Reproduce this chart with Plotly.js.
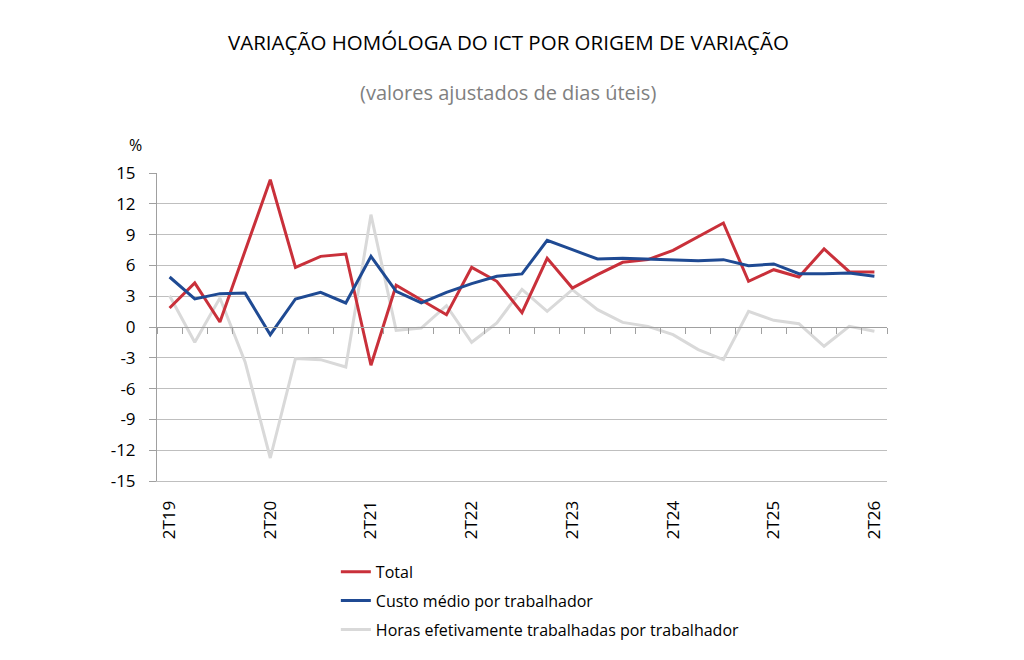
<!DOCTYPE html>
<html>
<head>
<meta charset="utf-8">
<script src="https://cdn.plot.ly/plotly-3.0.1.min.js"></script>
<style>html,body{margin:0;padding:0;background:#fff}#chart{width:1024px;height:660px}</style>
</head>
<body>
<div id="chart"></div>
<script>
var quarters = ['2T19','3T19','4T19','1T20','2T20','3T20','4T20','1T21','2T21','3T21','4T21','1T22','2T22','3T22','4T22','1T23','2T23','3T23','4T23','1T24','2T24','3T24','4T24','1T25','2T25','3T25','4T25','1T26','2T26'];
var tickLabels = ['2T19','2T20','2T21','2T22','2T23','2T24','2T25','2T26'];
var total = [1.85,4.29,0.49,7.4,14.35,5.81,6.88,7.11,-3.73,4.06,2.66,1.2,5.81,4.45,1.4,6.69,3.8,5.1,6.3,6.56,7.47,8.83,10.13,4.45,5.58,4.87,7.6,5.39,5.36];
var custo = [4.87,2.73,3.25,3.3,-0.75,2.73,3.38,2.34,6.88,3.47,2.34,3.38,4.22,4.94,5.17,8.44,7.53,6.62,6.69,6.62,6.56,6.46,6.56,5.97,6.14,5.19,5.19,5.26,4.94];
var horas = [3.05,-1.49,2.82,-3.4,-12.76,-3.08,-3.18,-3.9,10.94,-0.32,-0.1,2.08,-1.49,0.39,3.67,1.53,3.64,1.69,0.45,0.06,-0.75,-2.2,-3.18,1.53,0.65,0.32,-1.88,0.06,-0.42];
var yTicks = [-15,-12,-9,-6,-3,0,3,6,9,12,15];
var yTickText = ['-15','-12','-9','-6','-3','0','3','6','9','12','15'];

var FONT = 'Open Sans, DejaVu Sans, sans-serif';

var data = [
  {x: quarters, y: total, name: 'Total', type: 'scatter', mode: 'lines', xaxis: 'x2', yaxis: 'y',
   legendgroup: 'a', line: {color: '#C9303A', width: 3}},
  {x: quarters, y: custo, name: 'Custo médio por trabalhador', type: 'scatter', mode: 'lines', xaxis: 'x2', yaxis: 'y',
   legendgroup: 'b', line: {color: '#1F4A93', width: 3}},
  {x: quarters, y: horas, name: 'Horas efetivamente trabalhadas por trabalhador', type: 'scatter', mode: 'lines', xaxis: 'x', yaxis: 'y',
   legendgroup: 'c', line: {color: '#D9D9D9', width: 3}}
];

var layout = {
  width: 1024, height: 660,
  margin: {l: 157, r: 137, t: 173, b: 179},
  paper_bgcolor: '#fff', plot_bgcolor: '#fff',
  font: {family: FONT, color: '#000', size: 16},
  showlegend: true,
  legend: {x: 0.245, y: -0.24, xanchor: 'left', yanchor: 'top', orientation: 'v', traceorder: 'grouped',
           font: {family: FONT, size: 16, color: '#000'}, bgcolor: 'rgba(0,0,0,0)', tracegroupgap: 5},
  xaxis: {type: 'category', categoryorder: 'array', categoryarray: quarters,
          range: [-0.5, quarters.length - 0.5],
          tickmode: 'array', tickvals: tickLabels, ticktext: tickLabels, tickangle: -90,
          ticks: '', ticklabelstandoff: 12, showgrid: false, zeroline: false,
          showline: true, linecolor: '#BFBFBF', linewidth: 1,
          tickfont: {family: FONT, size: 17, color: '#000'}},
  xaxis2: {matches: 'x', overlaying: 'x', anchor: 'free', position: 0.5, side: 'bottom',
           type: 'category', showticklabels: false, ticks: 'outside', ticklen: 6, tickcolor: '#A0A0A0',
           tickson: 'boundaries', dtick: 1, showgrid: false, zeroline: false,
           showline: true, linecolor: '#A0A0A0', linewidth: 1},
  yaxis: {range: [-15, 15], tickmode: 'array', tickvals: yTicks, ticktext: yTickText, ticks: 'outside', ticklen: 7,
          ticklabelstandoff: 10,
          tickcolor: '#A0A0A0', showline: true, linecolor: '#A0A0A0', linewidth: 1,
          showgrid: true, gridcolor: '#BFBFBF', gridwidth: 1, zeroline: false,
          tickfont: {family: FONT, size: 17, color: '#000'}},
  annotations: [
    {text: 'VARIAÇÃO HOMÓLOGA DO ICT POR ORIGEM DE VARIAÇÃO', xref: 'paper', yref: 'paper', x: 0.481, y: 1, yshift: 131,
     xanchor: 'center', yanchor: 'middle', showarrow: false, font: {family: FONT, size: 20.5, color: '#000'}},
    {text: '(valores ajustados de dias úteis)', xref: 'paper', yref: 'paper', x: 0.481, y: 1, yshift: 81,
     xanchor: 'center', yanchor: 'middle', showarrow: false, font: {family: FONT, size: 20, color: '#808080'}},
    {text: '%', xref: 'paper', yref: 'paper', x: 0, xshift: -22, y: 1, yshift: 28,
     xanchor: 'center', yanchor: 'middle', showarrow: false, font: {family: FONT, size: 16, color: '#000'}}
  ]
};

Plotly.newPlot('chart', data, layout, {displayModeBar: false, staticPlot: true});
</script>
</body>
</html>
